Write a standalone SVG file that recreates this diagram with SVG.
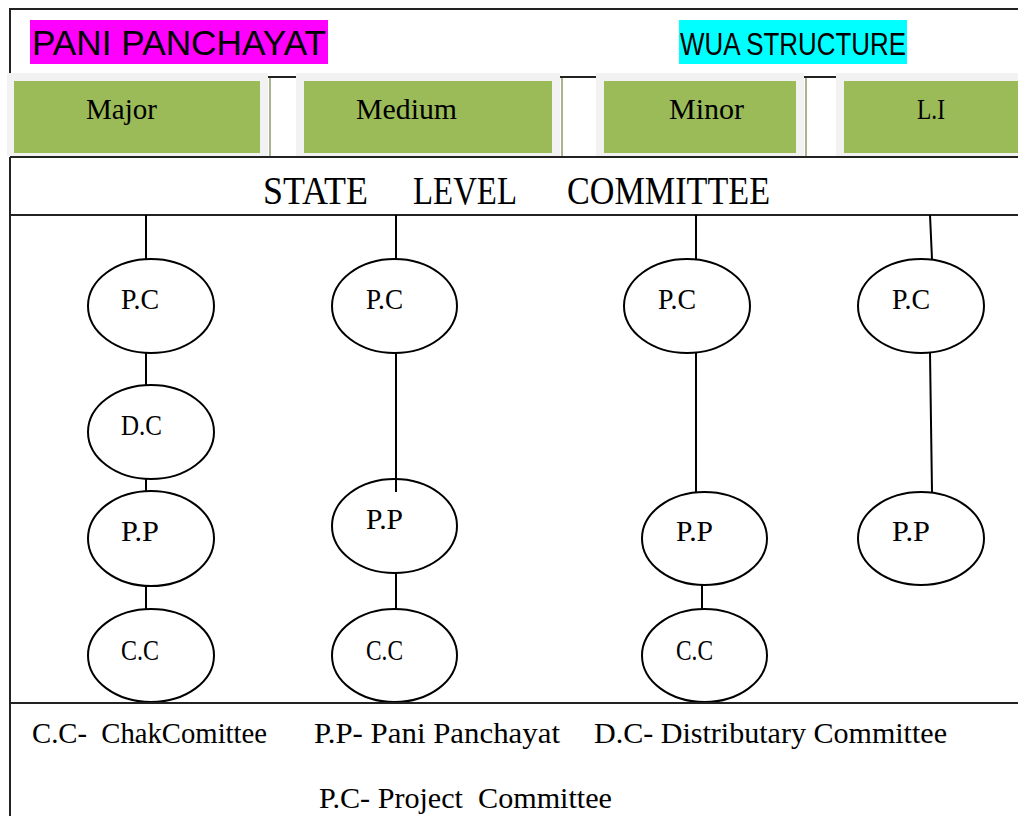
<svg xmlns="http://www.w3.org/2000/svg" width="1018" height="816" viewBox="0 0 1018 816">
<style>
.frame{stroke:#222;stroke-width:2;fill:none}
.cell{fill:#f2f2f2}
.green{fill:#9bbb59}
.sep{stroke:#a9b38f;stroke-width:2}
.conn{stroke:#000;stroke-width:2;fill:none}
.node{fill:#fff;stroke:#000;stroke-width:2}
.serif{font-family:"Liberation Serif","Times New Roman",serif;fill:#000}
.sans{font-family:"Liberation Sans",Arial,sans-serif;fill:#000}
.nl{font-size:29px}
.cat{font-size:30px}
.foot{font-size:30px}
</style>
<rect width="1018" height="816" fill="#fff"/>
<!-- frame -->
<g id="frame">
<line class="frame" x1="10" y1="9" x2="1018" y2="9"/>
<line class="frame" x1="10" y1="8" x2="10" y2="73"/>
<line class="frame" x1="10" y1="157" x2="10" y2="816"/>
<line class="frame" x1="10" y1="157" x2="1018" y2="157"/>
<line class="frame" x1="10" y1="215" x2="1018" y2="215"/>
<line class="frame" x1="10" y1="703" x2="1018" y2="703"/>
</g>
<!-- titles -->
<g id="title-pani">
<rect x="30" y="20" width="298" height="44" fill="#ff00ff"/>
<text class="sans" x="32" y="55" font-size="35" textLength="294" lengthAdjust="spacingAndGlyphs">PANI PANCHAYAT</text>
</g>
<g id="title-wua">
<rect x="679" y="20" width="228" height="44" fill="#00ffff"/>
<text class="sans" x="680" y="55" font-size="31" textLength="226" lengthAdjust="spacingAndGlyphs">WUA STRUCTURE</text>
</g>
<!-- category band -->
<g id="band-gaps">
<line class="frame" x1="268" y1="77" x2="296" y2="77"/>
<line class="frame" x1="560" y1="77" x2="596" y2="77"/>
<line class="frame" x1="804" y1="77" x2="836" y2="77"/>
<line class="sep" x1="270" y1="78" x2="270" y2="156"/>
<line class="sep" x1="562" y1="78" x2="562" y2="156"/>
<line class="sep" x1="806" y1="78" x2="806" y2="156"/>
</g>
<g id="cat-major">
<rect class="cell" x="7" y="73" width="261" height="83"/>
<rect class="green" x="14" y="81" width="246" height="72"/>
<text class="serif cat" x="86" y="119" textLength="71" lengthAdjust="spacingAndGlyphs">Major</text>
</g>
<g id="cat-medium">
<rect class="cell" x="296" y="73" width="264" height="83"/>
<rect class="green" x="304" y="81" width="248" height="72"/>
<text class="serif cat" x="356" y="119" textLength="101" lengthAdjust="spacingAndGlyphs">Medium</text>
</g>
<g id="cat-minor">
<rect class="cell" x="596" y="73" width="208" height="83"/>
<rect class="green" x="604" y="81" width="192" height="72"/>
<text class="serif cat" x="669" y="119" textLength="75" lengthAdjust="spacingAndGlyphs">Minor</text>
</g>
<g id="cat-li">
<rect class="cell" x="836" y="73" width="182" height="83"/>
<rect class="green" x="844" y="81" width="174" height="72"/>
<text class="serif cat" x="917" y="119" textLength="28" lengthAdjust="spacingAndGlyphs">L.I</text>
</g>
<line class="frame" x1="10" y1="157" x2="1018" y2="157"/>
<!-- state level committee -->
<g id="state-level-committee">
<text class="serif" font-size="41" x="263" y="204" textLength="105" lengthAdjust="spacingAndGlyphs">STATE</text>
<text class="serif" font-size="41" x="413" y="204" textLength="104" lengthAdjust="spacingAndGlyphs">LEVEL</text>
<text class="serif" font-size="41" x="567" y="204" textLength="203" lengthAdjust="spacingAndGlyphs">COMMITTEE</text>
</g>
<!-- connectors -->
<g id="connectors">
<line class="conn" x1="146" y1="215" x2="146" y2="259"/>
<line class="conn" x1="146" y1="353" x2="146" y2="385"/>
<line class="conn" x1="146" y1="479" x2="146" y2="491"/>
<line class="conn" x1="146" y1="586" x2="146" y2="609"/>
<line class="conn" x1="396" y1="215" x2="396" y2="259"/>
<line class="conn" x1="396" y1="353" x2="396" y2="492"/>
<line class="conn" x1="396" y1="573" x2="396" y2="609"/>
<line class="conn" x1="696" y1="215" x2="696" y2="259"/>
<line class="conn" x1="696" y1="353" x2="696" y2="492"/>
<line class="conn" x1="702" y1="585" x2="702" y2="609"/>
<line class="conn" x1="930" y1="215" x2="932" y2="259"/>
<line class="conn" x1="930" y1="353" x2="932" y2="492"/>
</g>
<!-- column 1 -->
<g id="c1-pc"><ellipse class="node" cx="151" cy="306" rx="63" ry="47"/><text class="serif nl" x="121" y="309" textLength="38" lengthAdjust="spacingAndGlyphs">P.C</text></g>
<g id="c1-dc"><ellipse class="node" cx="151" cy="432" rx="63" ry="47"/><text class="serif nl" x="121" y="435" textLength="41" lengthAdjust="spacingAndGlyphs">D.C</text></g>
<g id="c1-pp"><ellipse class="node" cx="151" cy="538.5" rx="63" ry="47.5"/><text class="serif nl" x="121" y="541" textLength="38" lengthAdjust="spacingAndGlyphs">P.P</text></g>
<g id="c1-cc"><ellipse class="node" cx="151" cy="655.5" rx="63" ry="46.5"/><text class="serif nl" x="121" y="660" textLength="38" lengthAdjust="spacingAndGlyphs">C.C</text></g>
<!-- column 2 -->
<g id="c2-pc"><ellipse class="node" cx="394.5" cy="306" rx="62.5" ry="47"/><text class="serif nl" x="366" y="309" textLength="37" lengthAdjust="spacingAndGlyphs">P.C</text></g>
<line class="conn" x1="396" y1="479" x2="396" y2="492"/>
<g id="c2-pp"><ellipse class="node" cx="394.5" cy="526" rx="62.5" ry="47" fill-opacity="0"/><text class="serif nl" x="366" y="529" textLength="37" lengthAdjust="spacingAndGlyphs">P.P</text></g>
<g id="c2-cc"><ellipse class="node" cx="394.5" cy="655.5" rx="62.5" ry="46.5"/><text class="serif nl" x="366" y="660" textLength="37" lengthAdjust="spacingAndGlyphs">C.C</text></g>
<!-- column 3 -->
<g id="c3-pc"><ellipse class="node" cx="687" cy="306" rx="63" ry="47"/><text class="serif nl" x="658" y="309" textLength="38" lengthAdjust="spacingAndGlyphs">P.C</text></g>
<g id="c3-pp"><ellipse class="node" cx="704.5" cy="538.5" rx="62.5" ry="46.5"/><text class="serif nl" x="676" y="541" textLength="37" lengthAdjust="spacingAndGlyphs">P.P</text></g>
<g id="c3-cc"><ellipse class="node" cx="704.5" cy="655.5" rx="62.5" ry="46.5"/><text class="serif nl" x="676" y="660" textLength="37" lengthAdjust="spacingAndGlyphs">C.C</text></g>
<!-- column 4 -->
<g id="c4-pc"><ellipse class="node" cx="921" cy="306" rx="63" ry="47"/><text class="serif nl" x="892" y="309" textLength="38" lengthAdjust="spacingAndGlyphs">P.C</text></g>
<g id="c4-pp"><ellipse class="node" cx="921" cy="538.5" rx="63" ry="46.5"/><text class="serif nl" x="892" y="541" textLength="38" lengthAdjust="spacingAndGlyphs">P.P</text></g>
<line class="frame" x1="10" y1="703" x2="1018" y2="703"/>
<!-- legend -->
<g id="legend">
<text class="serif foot" x="32" y="743" textLength="235" lengthAdjust="spacingAndGlyphs" xml:space="preserve">C.C-  ChakComittee</text>
<text class="serif foot" x="314" y="743" textLength="246" lengthAdjust="spacingAndGlyphs">P.P- Pani Panchayat</text>
<text class="serif foot" x="594" y="743" textLength="353" lengthAdjust="spacingAndGlyphs">D.C- Distributary Committee</text>
<text class="serif foot" x="319" y="808" textLength="293" lengthAdjust="spacingAndGlyphs" xml:space="preserve">P.C- Project  Committee</text>
</g>
</svg>
